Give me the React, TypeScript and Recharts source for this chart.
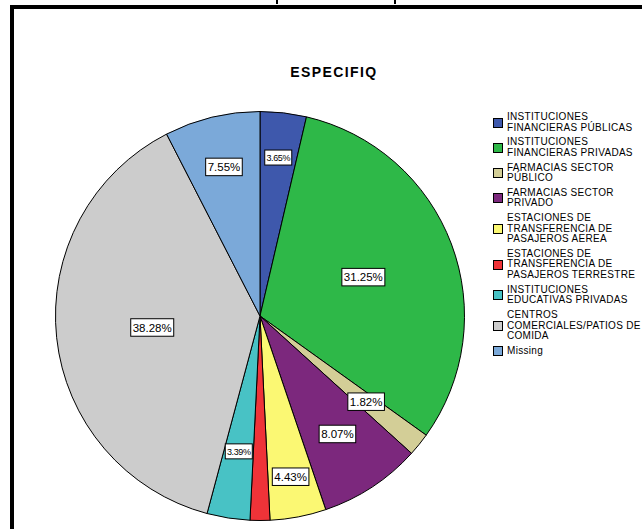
import React from 'react';
import { PieChart, Pie, Cell } from 'recharts';

// Category names, in the order the slices run clockwise from 12 o'clock
const categories = [
    'INSTITUCIONES FINANCIERAS PÚBLICAS',
    'INSTITUCIONES FINANCIERAS PRIVADAS',
    'FARMACIAS SECTOR PÚBLICO',
    'FARMACIAS SECTOR PRIVADO',
    'ESTACIONES DE TRANSFERENCIA DE PASAJEROS AEREA',
    'ESTACIONES DE TRANSFERENCIA DE PASAJEROS TERRESTRE',
    'INSTITUCIONES EDUCATIVAS PRIVADAS',
    'CENTROS COMERCIALES/PATIOS DE COMIDA',
    'Missing',
];

// Share of each category (%)
const percents = [3.65, 31.25, 1.82, 8.07, 4.43, 1.56, 3.39, 38.28, 7.55];

// Whether the slice carries a percentage box
const labelled = [true, true, true, true, true, false, true, true, true];

const COLORS = ['#3E58AC', '#2EB848', '#D3CE97', '#7C287D', '#FBF873', '#EF3338', '#48C2C5', '#CCCCCC', '#7BA9D9'];

// Label placement: fraction of the radius and font size per slice
const LABEL_RADIUS = [0.78, 0.54, 0.667, 0.69, 0.8, 0.7, 0.67, 0.53, 0.75];
const LABEL_FONT = [9, 11.5, 11.5, 11.5, 11.5, 11.5, 9, 11.5, 11.5];

const FONT = "'Liberation Sans', Arial, Helvetica, sans-serif";
const RADIAN = Math.PI / 180;

const chartData = categories.map((name, i) => ({ name, value: percents[i] }));

const renderLabel = (props: any) => {
    const { cx, cy, midAngle, outerRadius, index, value } = props;
    if (!labelled[index]) return null;
    const r = outerRadius * LABEL_RADIUS[index];
    const x = cx + r * Math.cos(-midAngle * RADIAN);
    const y = cy + r * Math.sin(-midAngle * RADIAN);
    const fs = LABEL_FONT[index];
    const small = fs < 10;
    const text = `${value.toFixed(2)}%`;
    const digits = text.replace(/[^0-9]/g, '').length;
    const w = fs * (0.556 * digits + 0.278 + 0.889) + (small ? 1.5 : 4);
    const h = small ? 15 : 17.5;
    return (
        <g>
            <rect x={x - w / 2} y={y - h / 2} width={w} height={h} fill="#fff" stroke="#000" strokeWidth={1} />
            <text x={x} y={y} dy={fs * 0.36} textAnchor="middle" fontSize={fs} fontFamily={FONT}
                letterSpacing={small ? -0.4 : 0} fill="#000">
                {text}
            </text>
        </g>
    );
};

function CategoryLegend() {
    return (
        <div style={{
            position: 'absolute', left: 493, top: 112,
            fontFamily: FONT, fontSize: 10, letterSpacing: 0.3, color: '#000',
        }}>
            {categories.map((name, i) => (
                <div key={name} style={{ display: 'flex', alignItems: 'center', marginBottom: 4.3 }}>
                    <div style={{
                        width: 8, height: 8, border: '1px solid #000', background: COLORS[i],
                        flex: '0 0 auto', marginRight: 4,
                    }} />
                    <div style={{ width: 142, lineHeight: '10.5px' }}>
                        {name.replace('/', '/\u2060')}
                    </div>
                </div>
            ))}
        </div>
    );
}

export default function App() {
    return (
        <div style={{ position: 'absolute', left: 0, top: 0, width: 642, height: 529, overflow: 'hidden', background: '#fff' }}>
            {/* frame of the output window */}
            <div style={{
                position: 'absolute', left: 10, top: 5, width: 640, height: 530,
                borderTop: '4px solid #000', borderLeft: '4px solid #000',
            }} />
            {/* descenders of the heading cut off above */}
            <div style={{ position: 'absolute', left: 276, top: 0, width: 2, height: 4, background: '#000' }} />
            <div style={{ position: 'absolute', left: 394, top: 0, width: 2, height: 4, background: '#000' }} />

            <div style={{
                position: 'absolute', left: 234, top: 64, width: 200, textAlign: 'center',
                fontFamily: FONT, fontWeight: 'bold', fontSize: 14, letterSpacing: 1.4, color: '#000',
            }}>
                ESPECIFIQ
            </div>

            <div style={{ position: 'absolute', left: 0, top: 0 }}>
                <PieChart width={642} height={529} margin={{ top: 0, right: 0, bottom: 0, left: 0 }}>
                    <Pie
                        data={chartData}
                        dataKey="value"
                        nameKey="name"
                        cx={260}
                        cy={316}
                        outerRadius={204.5}
                        startAngle={90}
                        endAngle={-270}
                        stroke="#000"
                        strokeWidth={1}
                        label={renderLabel}
                        labelLine={false}
                        isAnimationActive={false}
                    >
                        {chartData.map((_, i) => (
                            <Cell key={i} fill={COLORS[i]} />
                        ))}
                    </Pie>
                </PieChart>
            </div>

            <CategoryLegend />
        </div>
    );
}
